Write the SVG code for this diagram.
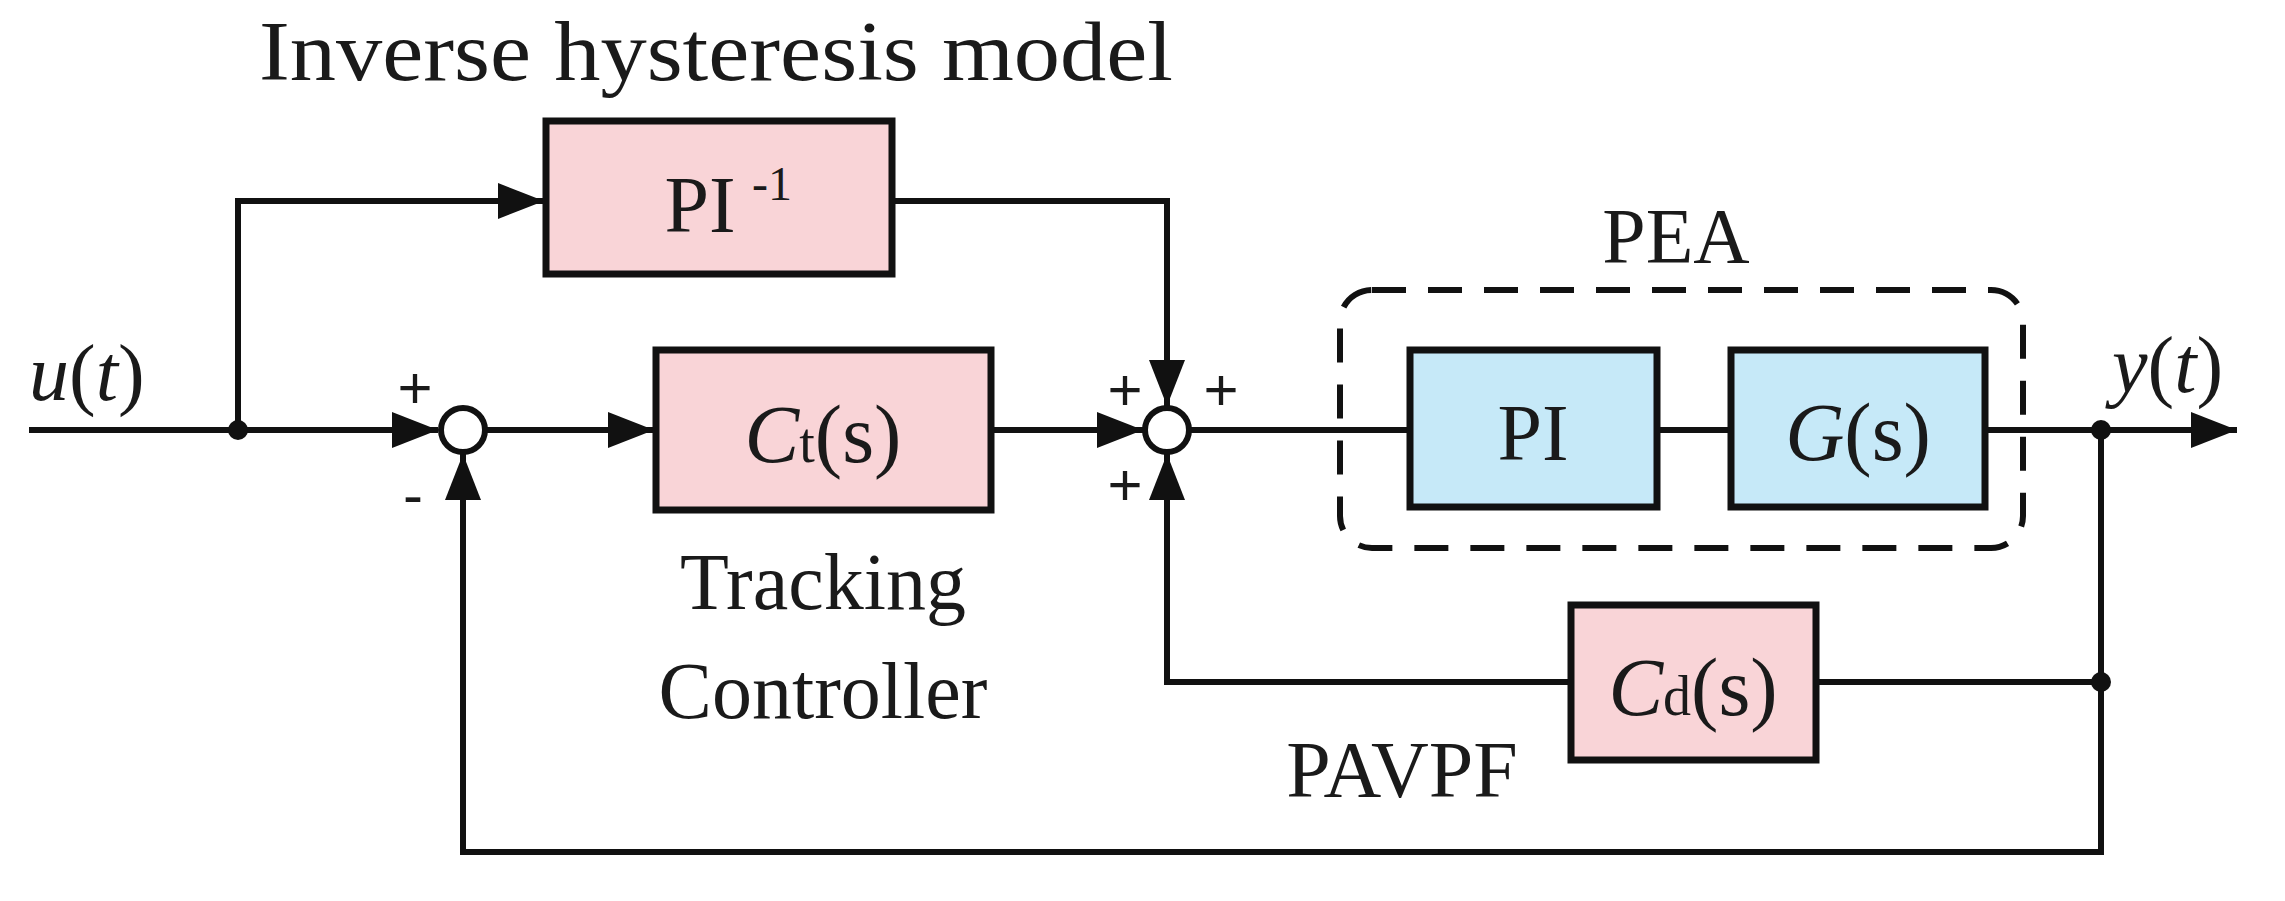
<svg xmlns="http://www.w3.org/2000/svg" width="2285" height="901" viewBox="0 0 2285 901">
<style>
.w{stroke:#111;stroke-width:6;fill:none}
.pk{fill:#f9d4d7;stroke:#111;stroke-width:7}
.bl{fill:#c6e9f8;stroke:#111;stroke-width:7}
text{font-family:"Liberation Serif","Times New Roman",serif;fill:#1a1a1a}
.s{font-family:"Liberation Sans",Arial,sans-serif;font-size:60px}
</style>
<defs>
<marker id="a" markerUnits="userSpaceOnUse" markerWidth="48" markerHeight="36" refX="46" refY="18" orient="auto"><path d="M0,0L46,18L0,36Z" fill="#111"/></marker>
</defs>
<rect width="2285" height="901" fill="#fff"/>
<g id="connectors">
<path class="w" d="M29,430H438" marker-end="url(#a)"/>
<path class="w" d="M238,430V201H544" marker-end="url(#a)"/>
<path class="w" d="M485,430H654" marker-end="url(#a)"/>
<path class="w" d="M991,430H1143" marker-end="url(#a)"/>
<path class="w" d="M892,201H1167V406" marker-end="url(#a)"/>
<path class="w" d="M1189,430H1410M1657,430H1731M1985,430H2237" marker-end="url(#a)"/>
<path class="w" d="M2101,430V852H463V454" marker-end="url(#a)"/>
<path class="w" d="M2101,682H1816M1571,682H1167V454" marker-end="url(#a)"/>
<circle cx="238" cy="430" r="10" fill="#111"/>
<circle cx="2101" cy="430" r="10" fill="#111"/>
<circle cx="2101" cy="682" r="10" fill="#111"/>
</g>
<g id="sum1"><circle cx="463" cy="430" r="22" fill="#fff" stroke="#111" stroke-width="6"/>
<text class="s" x="415" y="408" text-anchor="middle">+</text><text class="s" x="413" y="515" text-anchor="middle">-</text></g>
<g id="sum2"><circle cx="1167" cy="430" r="22" fill="#fff" stroke="#111" stroke-width="6"/>
<text class="s" x="1125" y="410" text-anchor="middle">+</text><text class="s" x="1221" y="410" text-anchor="middle">+</text><text class="s" x="1125" y="505" text-anchor="middle">+</text></g>
<g id="pinv"><rect class="pk" x="546" y="121" width="346" height="153"/>
<text x="700" y="232" font-size="80" text-anchor="middle">PI</text><text x="752" y="200" font-size="48">-1</text></g>
<g id="ct"><rect class="pk" x="656" y="350" width="335" height="160"/>
<text x="823" y="462" font-size="82" text-anchor="middle"><tspan font-style="italic">C</tspan><tspan font-size="56">t</tspan>(s)</text></g>
<g id="pea"><rect x="1340" y="290" width="683" height="258" rx="32" fill="none" stroke="#111" stroke-width="6" stroke-dasharray="34,22"/>
<text x="1676" y="262" font-size="78" text-anchor="middle">PEA</text></g>
<g id="pi"><rect class="bl" x="1410" y="350" width="247" height="157"/><text x="1533" y="460" font-size="80" text-anchor="middle">PI</text></g>
<g id="g"><rect class="bl" x="1731" y="350" width="254" height="157"/><text x="1858" y="460" font-size="82" text-anchor="middle"><tspan font-style="italic">G</tspan>(s)</text></g>
<g id="cd"><rect class="pk" x="1571" y="605" width="245" height="155"/><text x="1693" y="715" font-size="82" text-anchor="middle"><tspan font-style="italic">C</tspan><tspan font-size="56">d</tspan>(s)</text></g>
<text x="716" y="80" font-size="84" text-anchor="middle" textLength="914" lengthAdjust="spacingAndGlyphs">Inverse hysteresis model</text>
<text x="823" y="609" font-size="80" text-anchor="middle">Tracking</text>
<text x="823" y="718" font-size="80" text-anchor="middle">Controller</text>
<text x="1402" y="797" font-size="80" text-anchor="middle">PAVPF</text>
<text x="29" y="400" font-size="80"><tspan font-style="italic">u</tspan>(<tspan font-style="italic">t</tspan>)</text>
<text x="2112" y="392" font-size="80"><tspan font-style="italic">y</tspan>(<tspan font-style="italic">t</tspan>)</text>
</svg>
